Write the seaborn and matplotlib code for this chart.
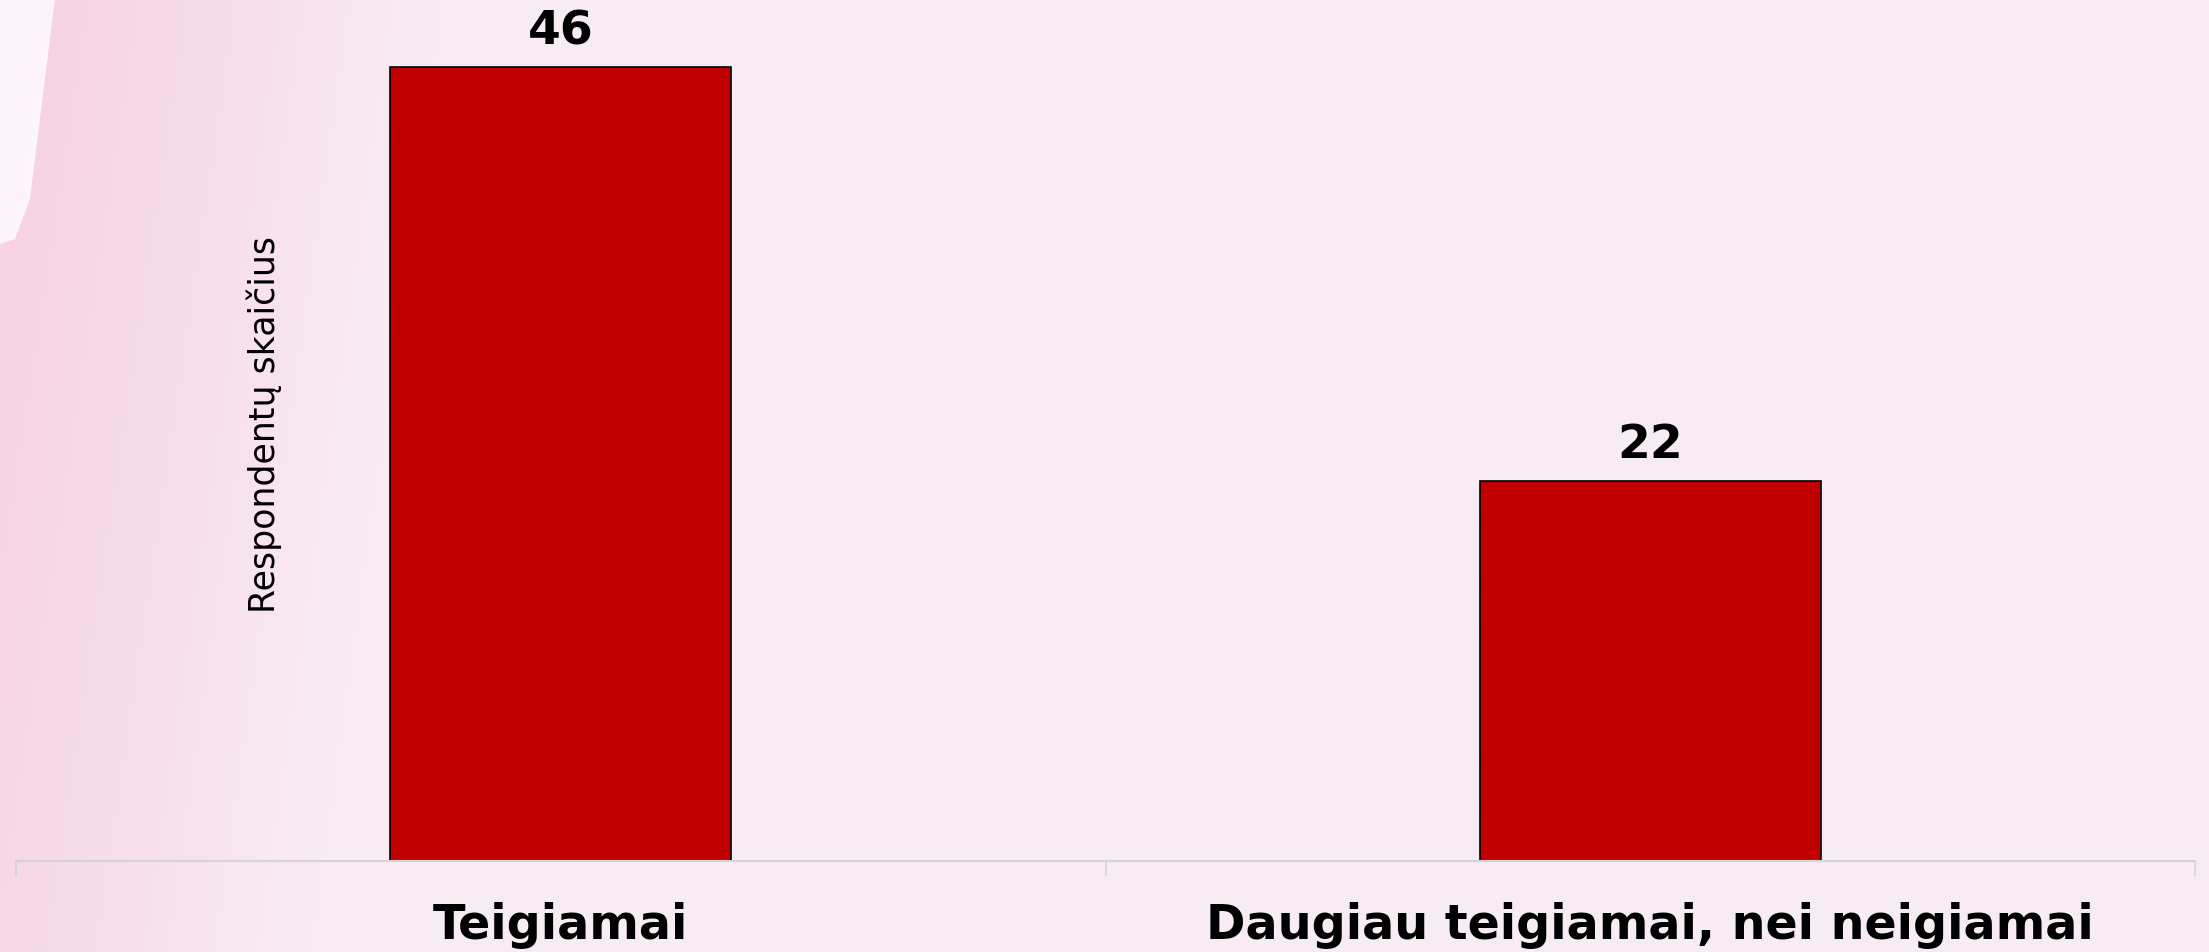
import numpy as np
import pandas as pd
import matplotlib
matplotlib.use("Agg")
import matplotlib.pyplot as plt
import seaborn as sns
from matplotlib.colors import LinearSegmentedColormap

categories = ["Teigiamai", "Daugiau teigiamai, nei neigiamai"]
values = [46, 22]
y_label = "Respondentų skaičius"

sns.set_theme(style="white")
plt.rcParams['font.family'] = ['DejaVu Sans']

W, H, DPI = 22.09, 9.53, 100
fig = plt.figure(figsize=(W, H), dpi=DPI)
base = "#f8ecf4"
fig.patch.set_facecolor(base)

# background gradient (pinker on the left)
bg = fig.add_axes([0, 0, 1, 1], zorder=0)
bg.set_axis_off()
nx, ny = 800, 300
xx = np.linspace(0, 1, nx)[None, :].repeat(ny, axis=0)
yy = np.linspace(1, 0, ny)[:, None].repeat(nx, axis=1)  # 1 at top
reach = 0.14 + 0.06 * yy
strength = np.clip(1 - xx / reach, 0, 1) ** 0.9
strength = strength * (0.7 + 0.3 * yy)
cmap = LinearSegmentedColormap.from_list("bgc", [base, "#f6d0e2"])
bg.imshow(strength, cmap=cmap, vmin=0, vmax=1, aspect="auto",
          extent=[0, 1, 0, 1], origin="upper")
# white streak in the top-left corner (figure pixel coords converted)
pts = [(0, 0), (55, 0), (30, 200), (15, 240), (0, 245)]
poly = [(x / 2209, 1 - y / 953) for x, y in pts]
bg.add_patch(plt.Polygon(poly, closed=True, facecolor="#fdf7fb", alpha=0.95, edgecolor="none"))
bg.set_xlim(0, 1); bg.set_ylim(0, 1)

ax = fig.add_axes([16 / 2209, 91 / 953, 2179 / 2209, 862 / 953], zorder=1)
ax.patch.set_alpha(0)

df = pd.DataFrame({"cat": categories, "val": values})
sns.barplot(data=df, x="cat", y="val", ax=ax, color="#c00000", width=0.313,
            edgecolor="black", linewidth=1.2, saturation=1)

ax.set_xlim(-0.5, 1.5)
ax.set_ylim(0, 49.94)

for p, v in zip(ax.patches, values):
    ax.annotate(f"{v}", (p.get_x() + p.get_width() / 2, p.get_height()),
                xytext=(0, 10), textcoords="offset points", ha="center", va="bottom",
                fontsize=34, fontweight="bold", color="black")

for s in ["top", "right", "left"]:
    ax.spines[s].set_visible(False)
ax.spines["bottom"].set_color("#d4d4d4")
ax.spines["bottom"].set_linewidth(1.5)

ax.set_yticks([])
ax.set_xlabel("")
ax.set_ylabel(y_label, fontsize=25, color="black")
ax.yaxis.set_label_coords(0.122, 0.508)

ax.set_xticks([0, 1])
ax.set_xticklabels(categories, fontsize=34.3, fontweight="bold", color="black")
ax.tick_params(axis="x", which="major", length=0, pad=29)
ax.set_xticks([-0.5, 0.5, 1.5], minor=True)
ax.tick_params(axis="x", which="minor", length=11, width=1.2, color="#d4d4d4",
               direction="out", bottom=True)

fig.savefig("out.png", dpi=DPI, facecolor=fig.get_facecolor())
